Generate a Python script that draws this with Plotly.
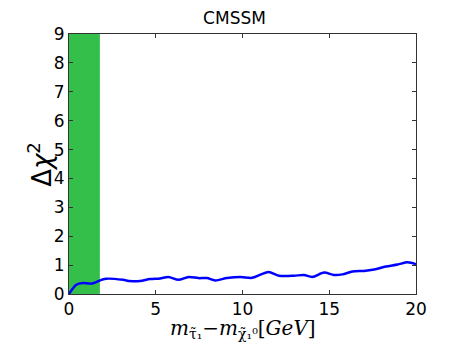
"""CMSSM Δχ² vs stau–neutralino mass difference (Plotly)"""

import plotly.graph_objects as go

# 曲线数据
mass_diff = [0.0, 0.42, 0.81, 1.29, 1.87, 2.16, 3.12, 3.5, 4.09, 4.67, 5.25, 5.73,
             6.31, 6.89, 7.46, 7.95, 8.43, 9.1, 9.87, 10.55, 11.03, 11.51, 12.1,
             12.96, 13.54, 14.02, 14.7, 15.27, 15.76, 16.34, 17.0, 17.59, 18.26,
             18.94, 19.52, 20.0]
delta_chi2 = [0.0, 0.32, 0.38, 0.36, 0.49, 0.53, 0.49, 0.45, 0.45, 0.52, 0.54, 0.59,
              0.49, 0.59, 0.55, 0.55, 0.47, 0.55, 0.59, 0.56, 0.67, 0.76, 0.63,
              0.63, 0.66, 0.59, 0.74, 0.66, 0.68, 0.78, 0.80, 0.85, 0.95,
              1.02, 1.10, 1.03]

# 绿色排除带
band_x = [0.0, 1.78]

x_ticks = [0, 5, 10, 15, 20]
y_ticks = [0, 1, 2, 3, 4, 5, 6, 7, 8, 9]

GREEN = '#33BF4A'
BLUE = '#0000FF'
FONT = 'DejaVu Sans'

fig = go.Figure()
fig.add_vrect(x0=band_x[0], x1=band_x[1], fillcolor=GREEN, opacity=1,
              line_width=0, layer='below')
fig.add_trace(go.Scatter(
    x=mass_diff, y=delta_chi2, mode='lines',
    line=dict(color=BLUE, width=2.5, shape='spline', smoothing=0.8),
    showlegend=False,
))

axis_common = dict(
    showline=True, linecolor='#333333', linewidth=1, mirror='allticks',
    ticks='inside', ticklen=4, tickcolor='#333333', showgrid=False,
    zeroline=False, tickfont=dict(family=FONT, size=17, color='black'),
)
fig.update_xaxes(range=[0, 20], tickvals=x_ticks, **axis_common)
fig.update_yaxes(range=[0, 9], tickvals=y_ticks, **axis_common)

# 页面 body 默认有 8px 边距，图尺寸相应缩小
fig.update_layout(
    width=453, height=338,
    margin=dict(l=61, r=45, t=26, b=52),
    plot_bgcolor='white', paper_bgcolor='white',
    title=dict(text='CMSSM', x=0.5, xanchor='center', y=0.97, yanchor='middle',
               font=dict(family=FONT, size=17, color='black')),
    annotations=[
        dict(text='Δ<i>χ</i><sup>2</sup>', xref='paper', yref='paper',
             x=-0.084, y=0.5, textangle=-90, showarrow=False,
             xanchor='center', yanchor='middle',
             font=dict(family=FONT, size=26, color='black')),
        dict(text='<i>m</i><sub>τ̃₁</sub>−<i>m</i><sub>χ̃₁⁰</sub>[<i>GeV</i>]',
             xref='paper', yref='paper', x=0.5, y=-0.075, showarrow=False,
             xanchor='center', yanchor='top',
             font=dict(family='DejaVu Serif', size=20, color='black')),
    ],
)

fig.write_html("out.html")
